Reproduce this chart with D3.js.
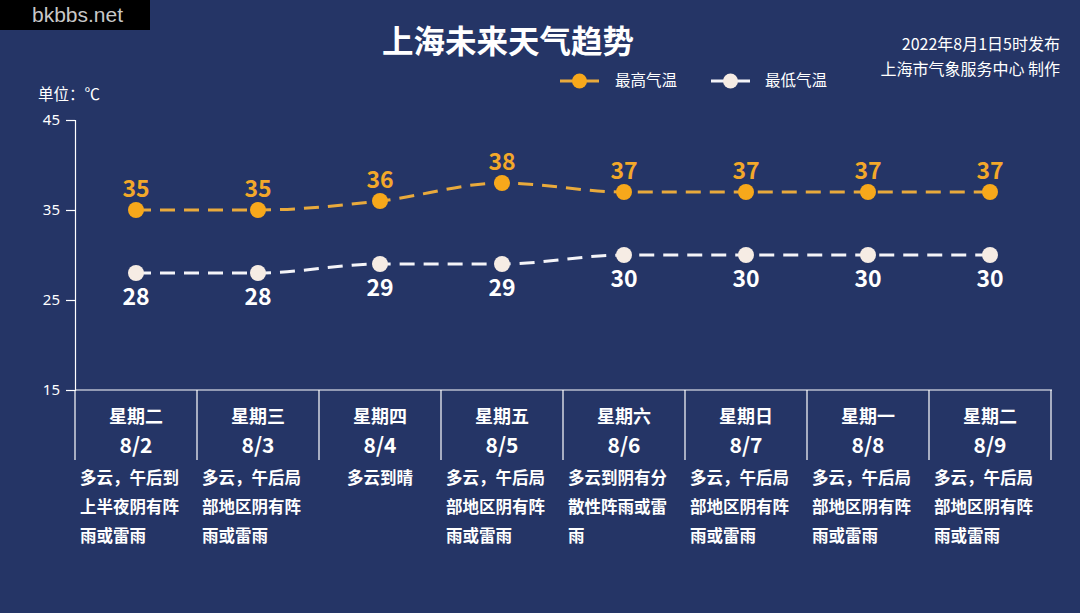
<!DOCTYPE html>
<html><head><meta charset="utf-8">
<script src="https://cdn.jsdelivr.net/npm/d3@7"></script>
<style>
html,body{margin:0;padding:0;background:#253566;}
svg{display:block;font-family:"Noto Sans CJK SC","Noto Sans",sans-serif;}
</style></head>
<body>
<svg id="c" width="1080" height="613"></svg>
<script>
const weekdays = ["星期二","星期三","星期四","星期五","星期六","星期日","星期一","星期二"];
const dates = ["8/2","8/3","8/4","8/5","8/6","8/7","8/8","8/9"];
const highTemps = [35,35,36,38,37,37,37,37];
const lowTemps = [28,28,29,29,30,30,30,30];
const weather = [
  "多云，午后到上半夜阴有阵雨或雷雨",
  "多云，午后局部地区阴有阵雨或雷雨",
  "多云到晴",
  "多云，午后局部地区阴有阵雨或雷雨",
  "多云到阴有分散性阵雨或雷雨",
  "多云，午后局部地区阴有阵雨或雷雨",
  "多云，午后局部地区阴有阵雨或雷雨",
  "多云，午后局部地区阴有阵雨或雷雨"
];
const yTicks = [15,25,35,45];
const seriesNames = ["最高气温","最低气温"];

const svg = d3.select("#c");
const W = 1080, H = 613;
svg.append("rect").attr("width",W).attr("height",H).attr("fill","#253566");

// watermark
svg.append("rect").attr("x",0).attr("y",0).attr("width",150).attr("height",30).attr("fill","#000");
svg.append("text").attr("x",32).attr("y",22).attr("fill","#c8c8c8")
  .attr("font-family","'Liberation Sans Narrow','Liberation Sans',sans-serif").attr("font-size",21).text("bkbbs.net");

// title
svg.append("text").attr("x",508).attr("y",53).attr("text-anchor","middle").attr("fill","#fff")
  .attr("font-size",31.5).attr("font-weight","bold").text("上海未来天气趋势");
svg.append("text").attr("x",1060).attr("y",50).attr("text-anchor","end").attr("fill","#fff")
  .attr("font-size",16).text("2022年8月1日5时发布");
svg.append("text").attr("x",1060).attr("y",75).attr("text-anchor","end").attr("fill","#fff")
  .attr("font-size",16).text("上海市气象服务中心 制作");

const x = d3.scaleBand().domain(dates).range([75,1051]);
const y = d3.scaleLinear().domain([15,45]).range([390,120]);
const cx = d => x(d) + x.bandwidth()/2;

// unit
svg.append("text").attr("x",38).attr("y",100).attr("fill","#fff").attr("font-size",15.5).text("单位：℃");

// y axis
const yAxis = svg.append("g").attr("transform","translate(75,0)")
  .call(d3.axisLeft(y).tickValues(yTicks).tickSize(9).tickPadding(6));
yAxis.select(".domain").attr("stroke","#fff").attr("stroke-width",1.2);
yAxis.selectAll(".tick line").attr("stroke","#fff").attr("stroke-width",1.2);
yAxis.selectAll(".tick text").attr("fill","#fff").attr("font-size",15).attr("font-family","'Noto Sans',sans-serif");

// x axis line and separators
svg.append("line").attr("x1",75).attr("x2",1052).attr("y1",390).attr("y2",390).attr("stroke","#fff").attr("stroke-width",1.2);
const seps = dates.map(d=>x(d)).concat([x(dates[dates.length-1])+x.bandwidth()]);
svg.selectAll("line.sep").data(seps).enter().append("line")
  .attr("x1",d=>d).attr("x2",d=>d).attr("y1",390).attr("y2",460)
  .attr("stroke","#fff").attr("stroke-width",1.2);

svg.selectAll("text.wd").data(weekdays).enter().append("text")
  .attr("x",(d,i)=>cx(dates[i])).attr("y",423).attr("text-anchor","middle")
  .attr("fill","#fff").attr("font-size",18).attr("font-weight","bold").text(d=>d);
svg.selectAll("text.dt").data(dates).enter().append("text")
  .attr("x",d=>cx(d)).attr("y",453).attr("text-anchor","middle")
  .attr("fill","#fff").attr("font-size",21).attr("font-weight","bold").text(d=>d);

// weather descriptions
weather.forEach((w,i)=>{
  const chars = Array.from(w);
  const lines = [];
  for(let k=0;k<chars.length;k+=6) lines.push(chars.slice(k,k+6).join(""));
  const single = lines.length===1;
  lines.forEach((ln,j)=>{
    svg.append("text")
      .attr("x", single ? cx(dates[i]) : x(dates[i])+5)
      .attr("y", 484 + j*29)
      .attr("text-anchor", single ? "middle" : "start")
      .attr("fill","#fff").attr("font-size",16.5).attr("font-weight","bold").text(ln);
  });
});

// lines
const line = d3.line().x((d,i)=>cx(dates[i])).y(d=>y(d)).curve(d3.curveMonotoneX);
const hiColor = "#e9aa3c", hiMark = "#f7a81b", hiLabel = "#f3a82a";
const loColor = "#f4f4f8", loMark = "#f6ece4";

svg.append("path").datum(highTemps).attr("d",line).attr("fill","none")
  .attr("stroke",hiColor).attr("stroke-width",3).attr("stroke-dasharray","15,9");
svg.append("path").datum(lowTemps).attr("d",line).attr("fill","none")
  .attr("stroke",loColor).attr("stroke-width",3).attr("stroke-dasharray","15,9");

svg.selectAll("circle.hi").data(highTemps).enter().append("circle")
  .attr("cx",(d,i)=>cx(dates[i])).attr("cy",d=>y(d)).attr("r",8).attr("fill",hiMark);
svg.selectAll("circle.lo").data(lowTemps).enter().append("circle")
  .attr("cx",(d,i)=>cx(dates[i])).attr("cy",d=>y(d)).attr("r",8).attr("fill",loMark);

svg.selectAll("text.hl").data(highTemps).enter().append("text")
  .attr("x",(d,i)=>cx(dates[i])).attr("y",d=>y(d)-13).attr("text-anchor","middle")
  .attr("fill",hiLabel).attr("font-size",23).attr("font-weight","bold").text(d=>d);
svg.selectAll("text.ll").data(lowTemps).enter().append("text")
  .attr("x",(d,i)=>cx(dates[i])).attr("y",d=>y(d)+32).attr("text-anchor","middle")
  .attr("fill","#fff").attr("font-size",23).attr("font-weight","bold").text(d=>d);

// legend
const leg = [{n:seriesNames[0],lx:560,c:hiColor,m:hiMark,tx:615},{n:seriesNames[1],lx:711,c:loColor,m:loMark,tx:765}];
leg.forEach(l=>{
  svg.append("line").attr("x1",l.lx).attr("x2",l.lx+39).attr("y1",81).attr("y2",81).attr("stroke",l.c).attr("stroke-width",3);
  svg.append("circle").attr("cx",l.lx+19.5).attr("cy",81).attr("r",7.5).attr("fill",l.m);
  svg.append("text").attr("x",l.tx).attr("y",86).attr("fill","#fff").attr("font-size",15.5).text(l.n);
});
</script>
</body></html>
